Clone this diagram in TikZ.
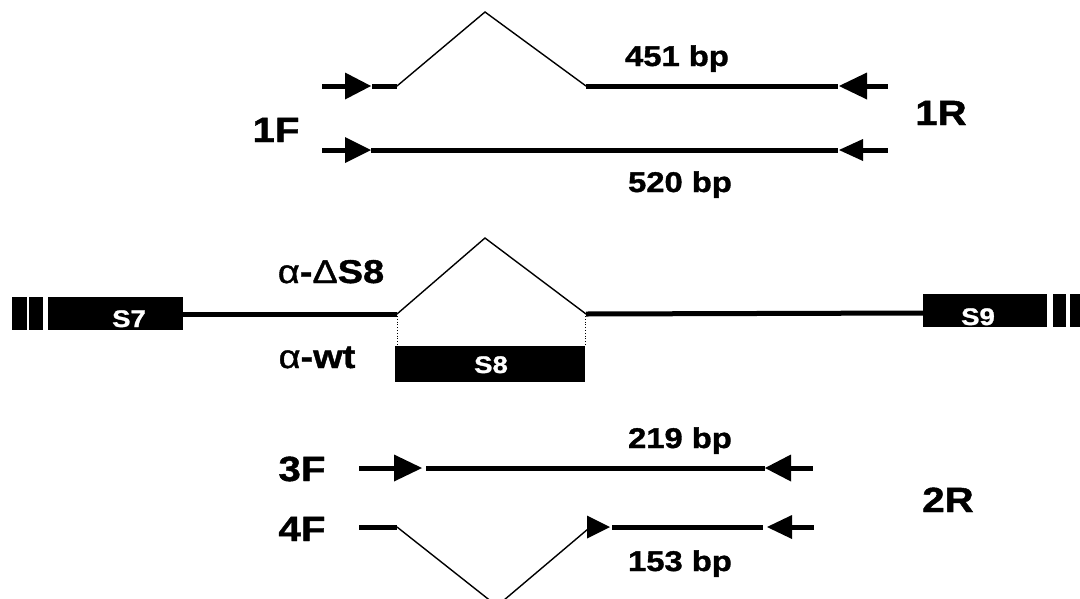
\documentclass[tikz,border=0pt]{standalone}
\usepackage{fontspec}
\setmainfont{Liberation Sans}
\newfontfamily\labfont[FakeStretch=1.15,FakeBold=1.2]{Liberation Sans}
\begin{document}
\begin{tikzpicture}[x=1pt,y=-1pt,
  dna/.style={line width=5pt},
  splice/.style={line width=1.4pt, line join=miter},
  guide/.style={line width=0.8pt, dotted},
  exon/.style={fill=black},
  size/.style={font=\labfont\bfseries\fontsize{28.5}{30}\selectfont, anchor=base},
  primer/.style={font=\labfont\bfseries\fontsize{35}{38}\selectfont, anchor=base},
  isoform/.style={font=\labfont\bfseries\fontsize{33}{36}\selectfont, anchor=base},
  exonlab/.style={font=\labfont\bfseries\fontsize{24}{26}\selectfont, anchor=base, text=white}]
\useasboundingbox (0,0) rectangle (1080,598);
% forward primer head pointing right: tip x, y, length, half width
\newcommand\fwdtip[4]{\fill (#1,#2) -- (#1-#3,#2-#4) -- (#1-#3,#2+#4) -- cycle;}
% reverse primer head pointing left
\newcommand\revtip[4]{\fill (#1,#2) -- (#1+#3,#2-#4) -- (#1+#3,#2+#4) -- cycle;}

% ---- primer pair 1F / 1R ----
\coordinate (a1) at (397,86);
\coordinate (a2) at (485,12);
\coordinate (a3) at (586,86);
\draw[dna] (322,86) -- (346,86);
\fwdtip{371}{86}{26}{13.5}
\draw[dna] (372,86) -- (a1);
\draw[splice] (a1) -- (a2) -- (a3);
\draw[dna] (a3) -- (838,86);
\revtip{839}{86}{28}{13.5}
\draw[dna] (866,86) -- (888,86);
\node[size] (p451) at (677,66) {451 bp};

\draw[dna] (322,150) -- (346,150);
\fwdtip{371}{150}{26}{13}
\draw[dna] (371,150) -- (838,150);
\revtip{839}{150}{24}{11}
\draw[dna] (862,150) -- (888,150);
\node[size] (p520) at (680,192) {520 bp};

\node[primer] (f1) at (276,142) {1F};
\node[primer] (r1) at (941,125) {1R};

% ---- gene structure S7 - S8 - S9 ----
\fill[exon] (12,297) rectangle (27,330);
\fill[exon] (29,297) rectangle (43,330);
\fill[exon] (48,297) rectangle (183,330);
\node[exonlab] (s7) at (129,327) {S7};
\coordinate (b1) at (397,314);
\coordinate (b2) at (485,238);
\coordinate (b3) at (586,314);
\draw[dna] (183,314) -- (b1);
\draw[splice] (b1) -- (b2) -- (b3);
\draw[dna] (b3) -- (923,313);
\fill[exon] (923,294) rectangle (1047,327);
\fill[exon] (1053,294) rectangle (1066,327);
\fill[exon] (1070,294) rectangle (1080,327);
\node[exonlab] (s9) at (978,325) {S9};
\fill[exon] (395,346) rectangle (585,382);
\node[exonlab] (s8) at (491,373) {S8};
\draw[guide] (397,316) -- (397,346);
\draw[guide] (585,316) -- (585,346);
\node[isoform] (dS8) at (331,283) {{\mdseries α}-{\mdseries Δ}S8};
\node[isoform] (wt) at (317,368) {{\mdseries α}-wt};

% ---- primer pairs 3F / 4F with 2R ----
\draw[dna] (359,468) -- (395,468);
\fwdtip{422}{468}{28}{13.5}
\draw[dna] (426,468) -- (765,468);
\revtip{765}{468}{26}{13.5}
\draw[dna] (790,468) -- (813,468);
\node[size] (p219) at (680,448) {219 bp};

\coordinate (c1) at (397,527);
\coordinate (c2) at (497,606);
\coordinate (c3) at (588,529);
\draw[dna] (359,527) -- (c1);
\begin{scope}
\clip (0,0) rectangle (1080,598);
\draw[splice] (c1) -- (c2) -- (c3);
\end{scope}
\fwdtip{610}{527}{23}{11.5}
\draw[dna] (612,527) -- (763,527);
\revtip{767}{527}{25}{12}
\draw[dna] (791,527) -- (814,527);
\node[size] (p153) at (680,571) {153 bp};

\node[primer] (f3) at (302,481) {3F};
\node[primer] (f4) at (302,541) {4F};
\node[primer] (r2) at (948,512) {2R};
\end{tikzpicture}
\end{document}
